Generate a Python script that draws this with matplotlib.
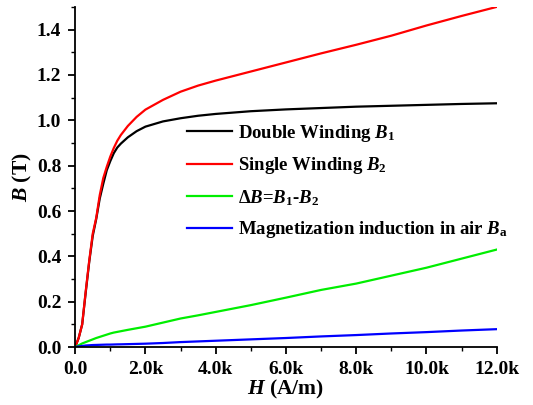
import matplotlib
matplotlib.use("Agg")
import matplotlib.pyplot as plt
from matplotlib.ticker import MultipleLocator, FuncFormatter

plt.rcParams['font.family'] = ['Liberation Serif', 'DejaVu Serif']
plt.rcParams['font.weight'] = 'bold'
plt.rcParams['mathtext.fontset'] = 'custom'
plt.rcParams['mathtext.rm'] = 'Liberation Serif:bold'
plt.rcParams['mathtext.bf'] = 'Liberation Serif:bold'
plt.rcParams['mathtext.it'] = 'Liberation Serif:italic:bold'

H = [0, 100, 200, 300, 400, 500, 600, 700, 800, 900, 1000, 1100, 1200, 1300, 1500, 1750, 2000, 2500,
     3000, 3500, 4000, 5000, 6000, 7000, 8000, 9000, 10000, 11000, 12000]
B1 = [0, 0.04, 0.10, 0.24, 0.375, 0.49, 0.565, 0.655, 0.72, 0.78, 0.82, 0.855, 0.88, 0.897, 0.925, 0.952, 0.972, 0.995,
      1.009, 1.02, 1.028, 1.04, 1.048, 1.054, 1.06, 1.064, 1.068, 1.072, 1.075]
B2 = [0, 0.04, 0.10, 0.245, 0.38, 0.50, 0.57, 0.67, 0.745, 0.795, 0.84, 0.878, 0.91, 0.935, 0.975, 1.015, 1.047, 1.09,
      1.126, 1.153, 1.175, 1.215, 1.255, 1.295, 1.333, 1.373, 1.418, 1.46, 1.50]
dB = [0, 0.008, 0.016, 0.022, 0.028, 0.034, 0.04, 0.045, 0.05, 0.055, 0.06, 0.064, 0.067, 0.07, 0.076, 0.083, 0.09, 0.108,
      0.126, 0.14, 0.155, 0.185, 0.218, 0.252, 0.28, 0.315, 0.35, 0.39, 0.43]
Ba = [0, 0.003, 0.005, 0.007, 0.008, 0.009, 0.0095, 0.01, 0.0105, 0.011, 0.011, 0.0115, 0.012, 0.0122, 0.013, 0.014, 0.015, 0.018,
      0.022, 0.025, 0.028, 0.034, 0.04, 0.047, 0.053, 0.06, 0.066, 0.073, 0.079]

labels = [r"Double Winding $B_1$", r"Single Winding $B_2$",
          r"$\Delta B$=$B_1$-$B_2$", r"Magnetization induction in air $B_\mathrm{a}$"]
colors = ["#000000", "#ff0000", "#00ee00", "#0000ff"]

fig = plt.figure(figsize=(5.33, 4.05), dpi=100)
ax = fig.add_axes([0.141, 0.143, 0.791, 0.840])
for y, c, l in zip([B1, B2, dB, Ba], colors, labels):
    ax.plot(H, y, color=c, lw=1.6, label=l)

ax.set_xlim(0, 12000)
ax.set_ylim(0, 1.5)
ax.spines['top'].set_visible(False)
ax.spines['right'].set_visible(False)
for s in ['left', 'bottom']:
    ax.spines[s].set_linewidth(1.3)
ax.xaxis.set_major_locator(MultipleLocator(2000))
ax.xaxis.set_minor_locator(MultipleLocator(1000))
ax.yaxis.set_major_locator(MultipleLocator(0.2))
ax.yaxis.set_minor_locator(MultipleLocator(0.1))
ax.xaxis.set_major_formatter(FuncFormatter(lambda v, p: "0.0" if v == 0 else f"{v/1000:.1f}k"))
ax.yaxis.set_major_formatter(FuncFormatter(lambda v, p: f"{v:.1f}"))
ax.tick_params(which='major', direction='out', length=5, width=1.3, labelsize=14, pad=5)
ax.tick_params(which='minor', direction='out', length=3, width=1.0)
for t in ax.get_xticklabels() + ax.get_yticklabels():
    t.set_fontweight('bold')

ax.set_xlabel(r"$H$ (A/m)", fontsize=15.5, fontweight='bold', labelpad=0)
ax.set_ylabel(r"$B$ (T)", fontsize=15.5, fontweight='bold', labelpad=2)

leg = ax.legend(loc='upper left', bbox_to_anchor=(0.265, 0.66), frameon=False,
                fontsize=13.5, handlelength=2.4, handletextpad=0.3, labelspacing=0.62,
                borderaxespad=0, borderpad=0)
for t in leg.get_texts():
    t.set_fontweight('bold')

fig.savefig("out.png", dpi=100)
